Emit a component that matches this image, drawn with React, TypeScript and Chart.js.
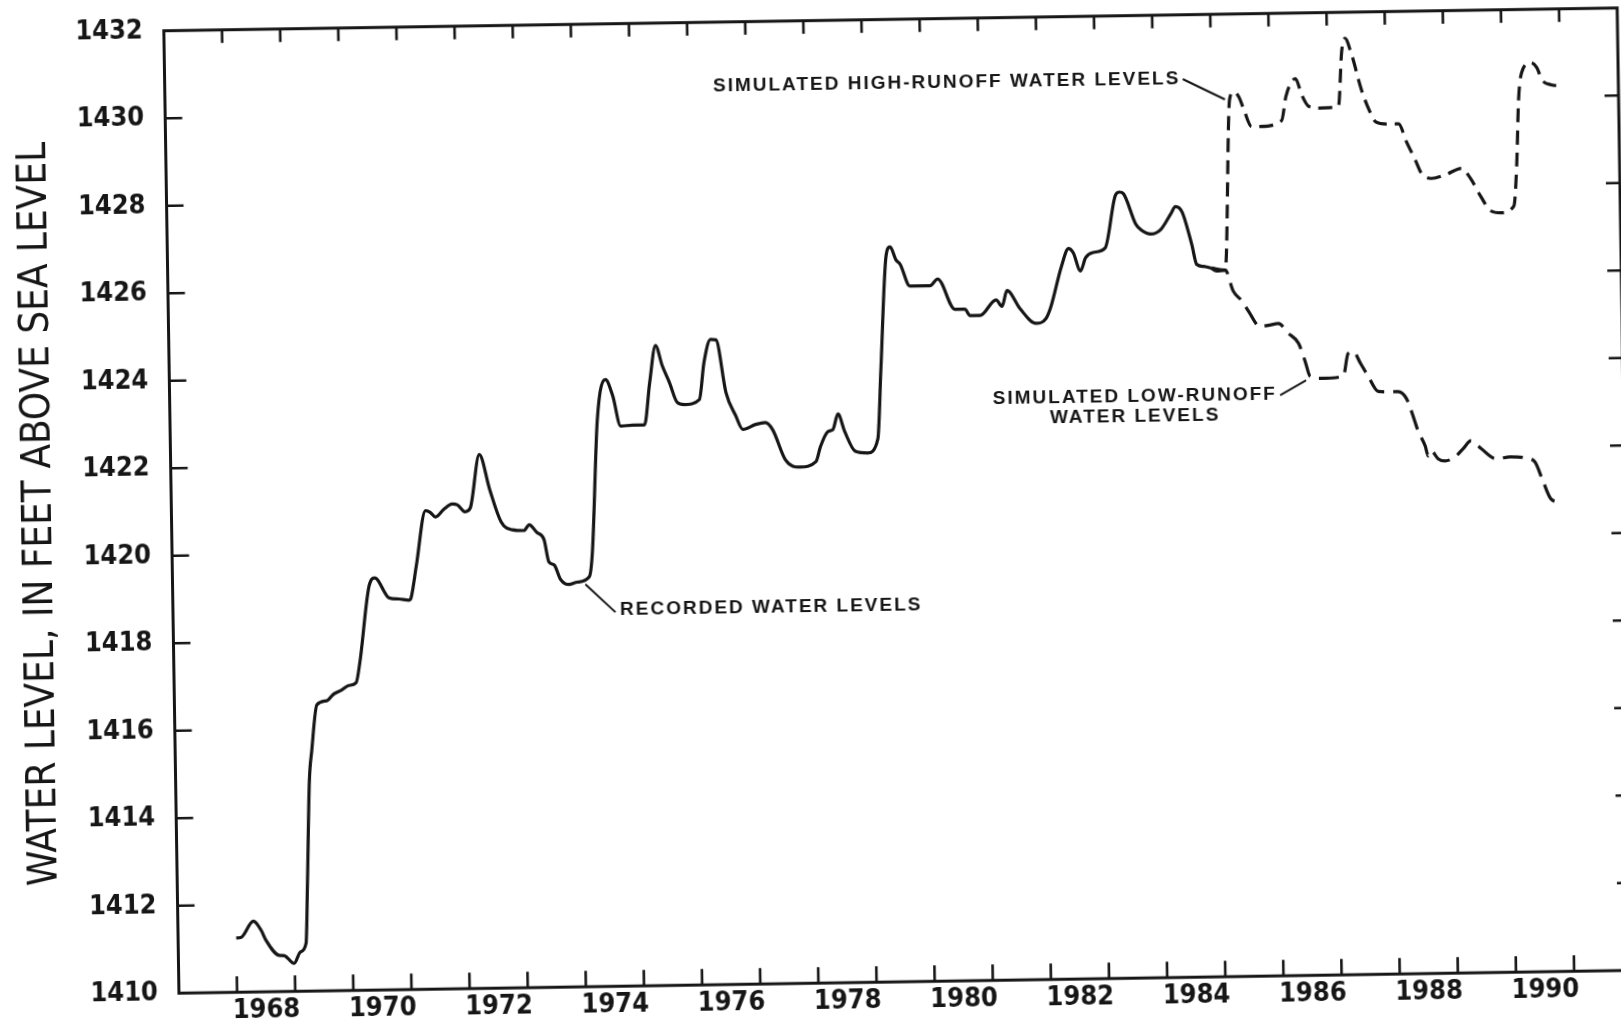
import React, { useEffect, useRef } from 'react';
import { Chart, registerables } from 'chart.js';

Chart.register(...registerables);

// ---------- data ----------
const recordedYears = [
  1968.00, 1968.08, 1968.30, 1968.43, 1968.51, 1968.73, 1968.82, 1968.99, 1969.10, 1969.20,
  1969.24, 1969.30, 1969.35, 1969.45, 1969.62, 1969.74, 1969.88, 1970.00, 1970.13, 1970.20,
  1970.38, 1970.48, 1970.72, 1970.89, 1971.06, 1971.10, 1971.20, 1971.37, 1971.45, 1971.54,
  1971.69, 1971.83, 1971.92, 1972.05, 1972.14, 1972.31, 1972.48, 1972.67, 1972.86, 1973.06,
  1973.15, 1973.28, 1973.40, 1973.48, 1973.57, 1973.67, 1973.82, 1973.96, 1974.17, 1974.23,
  1974.35, 1974.50, 1974.62, 1974.75, 1974.96, 1975.16, 1975.26, 1975.37, 1975.48, 1975.60,
  1975.73, 1975.85, 1976.11, 1976.20, 1976.32, 1976.41, 1976.57, 1976.73, 1976.85, 1977.07,
  1977.24, 1977.36, 1977.58, 1977.82, 1978.10, 1978.18, 1978.31, 1978.40, 1978.49, 1978.60,
  1978.78, 1978.99, 1979.17, 1979.24, 1979.36, 1979.43, 1979.53, 1979.60, 1979.76, 1980.11,
  1980.24, 1980.53, 1980.70, 1980.79, 1980.96, 1981.24, 1981.34, 1981.43, 1981.65, 1981.92,
  1982.09, 1982.18, 1982.37, 1982.50, 1982.58, 1982.70, 1982.79, 1982.92, 1983.13, 1983.32,
  1983.39, 1983.46, 1983.66, 1983.75, 1983.92, 1984.09, 1984.27, 1984.35, 1984.46, 1984.62,
  1984.70, 1984.82, 1984.95,
];
const recordedLevels = [
  1411.24, 1411.25, 1411.62, 1411.41, 1411.18, 1410.83, 1410.82, 1410.64, 1410.90, 1411.10,
  1412.47, 1414.80, 1415.50, 1416.54, 1416.63, 1416.78, 1416.87, 1416.97, 1417.03, 1417.49,
  1419.24, 1419.42, 1418.96, 1418.93, 1418.90, 1418.96, 1419.70, 1420.94, 1420.90, 1420.79,
  1420.97, 1421.08, 1421.06, 1420.90, 1420.98, 1422.20, 1421.40, 1420.65, 1420.47, 1420.45,
  1420.58, 1420.40, 1420.24, 1419.72, 1419.65, 1419.33, 1419.20, 1419.25, 1419.37, 1419.94,
  1422.96, 1423.87, 1423.50, 1422.80, 1422.82, 1422.82, 1423.78, 1424.63, 1424.17, 1423.78,
  1423.32, 1423.27, 1423.38, 1424.23, 1424.75, 1424.74, 1423.53, 1423.00, 1422.68, 1422.79,
  1422.83, 1422.67, 1421.96, 1421.80, 1421.92, 1422.26, 1422.60, 1422.65, 1423.00, 1422.60,
  1422.14, 1422.10, 1422.42, 1424.00, 1426.60, 1426.80, 1426.50, 1426.40, 1425.90, 1425.90,
  1426.05, 1425.35, 1425.35, 1425.20, 1425.20, 1425.55, 1425.40, 1425.76, 1425.34, 1425.00,
  1425.10, 1425.37, 1426.28, 1426.70, 1426.60, 1426.18, 1426.48, 1426.60, 1426.70, 1427.90,
  1427.97, 1427.93, 1427.24, 1427.10, 1427.00, 1427.10, 1427.46, 1427.62, 1427.50, 1426.75,
  1426.29, 1426.24, 1426.20,
];

const highYears = [
  1984.95, 1985.19, 1985.31, 1985.38, 1985.47, 1985.55, 1985.68, 1985.83, 1986.20, 1986.28,
  1986.45, 1986.55, 1986.67, 1986.87, 1987.18, 1987.25, 1987.31, 1987.42, 1987.58, 1987.70,
  1987.82, 1988.00, 1988.21, 1988.34, 1988.49, 1988.59, 1988.76, 1989.02, 1989.28, 1989.43,
  1989.60, 1989.77, 1989.94, 1990.17, 1990.23, 1990.28, 1990.34, 1990.50, 1990.60, 1990.69,
  1990.84, 1990.98,
];
const highLevels = [
  1426.20, 1426.15, 1430.05, 1430.22, 1430.10, 1429.82, 1429.42, 1429.42, 1429.55, 1430.10,
  1430.50, 1430.13, 1429.86, 1429.82, 1429.85, 1431.10, 1431.40, 1431.03, 1430.22, 1429.78,
  1429.48, 1429.43, 1429.43, 1429.02, 1428.59, 1428.29, 1428.17, 1428.26, 1428.39, 1428.16,
  1427.75, 1427.41, 1427.36, 1427.51, 1428.44, 1429.94, 1430.56, 1430.78, 1430.67, 1430.38,
  1430.27, 1430.24,
];

const lowYears = [
  1984.95, 1985.04, 1985.19, 1985.32, 1985.46, 1985.57, 1985.77, 1985.91, 1986.09, 1986.26,
  1986.43, 1986.54, 1986.62, 1986.79, 1987.19, 1987.28, 1987.37, 1987.49, 1987.62, 1987.79,
  1987.93, 1988.13, 1988.27, 1988.38, 1988.46, 1988.58, 1988.63, 1988.68, 1988.80, 1988.92,
  1989.11, 1989.23, 1989.37, 1989.54, 1989.80, 1990.04, 1990.30, 1990.46, 1990.60, 1990.73,
  1990.87,
];
const lowLevels = [
  1426.20, 1426.13, 1426.15, 1425.67, 1425.45, 1425.22, 1424.85, 1424.87, 1424.91, 1424.68,
  1424.45, 1424.03, 1423.69, 1423.64, 1423.68, 1424.20, 1424.24, 1423.97, 1423.67, 1423.32,
  1423.31, 1423.31, 1423.15, 1422.75, 1422.41, 1422.06, 1421.83, 1421.95, 1421.76, 1421.71,
  1421.82, 1421.98, 1422.16, 1421.98, 1421.74, 1421.78, 1421.75, 1421.66, 1421.20, 1420.80,
  1420.73,
];

const yearLabels = ['1968', '1970', '1972', '1974', '1976', '1978', '1980', '1982', '1984', '1986', '1988', '1990'];
const yearTickMarks = [
  1968, 1969, 1970, 1971, 1972, 1973, 1974, 1975, 1976, 1977, 1978, 1979,
  1980, 1981, 1982, 1983, 1984, 1985, 1986, 1987, 1988, 1989, 1990, 1991,
];
const levelTicks = [1410, 1412, 1414, 1416, 1418, 1420, 1422, 1424, 1426, 1428, 1430, 1432];
const levelTickMarks = [1412, 1414, 1416, 1418, 1420, 1422, 1424, 1426, 1428, 1430];
const yAxisTitle = 'WATER LEVEL, IN FEET ABOVE SEA LEVEL';

// annotation texts anchored in data coordinates
const noteTexts = [
  { lines: ['RECORDED WATER LEVELS'], year: 1974.69, level: 1418.6, align: 'left' },
  { lines: ['SIMULATED HIGH-RUNOFF WATER LEVELS'], year: 1976.43, level: 1430.53, align: 'left' },
  { lines: ['SIMULATED LOW-RUNOFF', 'WATER LEVELS'], year: 1983.6, level: 1423.3, align: 'center' },
];
const leaderFrom = [[1974.1, 1419.2], [1984.51, 1430.53], [1986.1, 1423.27]];
const leaderTo = [[1974.61, 1418.55], [1985.23, 1430.05], [1986.55, 1423.6]];

const INK = '#161616';
const TICK_FONT = '"DejaVu Sans Condensed", "DejaVu Sans", sans-serif';

const marksPlugin = {
  id: 'marksPlugin',
  afterDatasetsDraw(chart: any) {
    const { ctx, chartArea: a, scales } = chart;
    const x = scales.x;
    const y = scales.y;
    ctx.save();
    ctx.strokeStyle = INK;
    ctx.lineCap = 'butt';
    // frame
    ctx.lineWidth = 3;
    ctx.strokeRect(a.left, a.top, a.right - a.left, a.bottom - a.top);
    // inward tick marks
    ctx.lineWidth = 2.6;
    ctx.beginPath();
    for (const yr of yearTickMarks) {
      const px = x.getPixelForValue(yr);
      ctx.moveTo(px, a.bottom);
      ctx.lineTo(px, a.bottom - 16);
      ctx.moveTo(px, a.top);
      ctx.lineTo(px, a.top + 13);
    }
    for (const lv of levelTickMarks) {
      const py = y.getPixelForValue(lv);
      ctx.moveTo(a.left, py);
      ctx.lineTo(a.left + 17, py);
      ctx.moveTo(a.right, py);
      ctx.lineTo(a.right - 14, py);
    }
    ctx.stroke();
    // leader lines
    ctx.lineWidth = 2;
    ctx.beginPath();
    for (let i = 0; i < leaderFrom.length; i++) {
      ctx.moveTo(x.getPixelForValue(leaderFrom[i][0]), y.getPixelForValue(leaderFrom[i][1]));
      ctx.lineTo(x.getPixelForValue(leaderTo[i][0]), y.getPixelForValue(leaderTo[i][1]));
    }
    ctx.stroke();
    // annotation text
    ctx.fillStyle = INK;
    ctx.font = 'bold 19px "Liberation Sans", Arial, sans-serif';
    (ctx as any).letterSpacing = '2px';
    ctx.textBaseline = 'middle';
    for (const n of noteTexts) {
      ctx.textAlign = n.align as CanvasTextAlign;
      const px = x.getPixelForValue(n.year);
      const py = y.getPixelForValue(n.level);
      n.lines.forEach((line, i) => ctx.fillText(line, px, py + i * 20));
    }
    ctx.restore();
  },
};

export default function App() {
  const ref = useRef<HTMLCanvasElement | null>(null);

  useEffect(() => {
    if (!ref.current) return;
    const toPts = (xs: number[], ys: number[]) => xs.map((v, i) => ({ x: v, y: ys[i] }));
    const chart = new Chart(ref.current, {
      type: 'line',
      data: {
        datasets: [
          {
            label: 'Recorded water levels',
            data: toPts(recordedYears, recordedLevels),
            borderColor: INK,
            borderWidth: 3.2,
            pointRadius: 0,
            cubicInterpolationMode: 'monotone',
            fill: false,
          },
          {
            label: 'Simulated high-runoff water levels',
            data: toPts(highYears, highLevels),
            borderColor: INK,
            borderWidth: 3.2,
            borderDash: [14, 8],
            pointRadius: 0,
            cubicInterpolationMode: 'monotone',
            fill: false,
          },
          {
            label: 'Simulated low-runoff water levels',
            data: toPts(lowYears, lowLevels),
            borderColor: INK,
            borderWidth: 3.2,
            borderDash: [20, 9],
            pointRadius: 0,
            cubicInterpolationMode: 'monotone',
            fill: false,
          },
        ],
      },
      options: {
        animation: false,
        responsive: false,
        devicePixelRatio: 1,
        layout: { padding: { top: 20.7, right: 35, left: 0, bottom: 0 } },
        plugins: { legend: { display: false }, tooltip: { enabled: false } },
        scales: {
          x: {
            type: 'linear',
            min: 1967.0,
            max: 1992.0,
            grid: { display: false, drawTicks: false },
            border: { display: false },
            afterBuildTicks: (ax: any) => {
              ax.ticks = yearLabels.map((l) => ({ value: Number(l) + 0.5 }));
            },
            afterFit: (ax: any) => {
              ax.height = 43.8;
              ax.paddingLeft = 0;
              ax.paddingRight = 0;
            },
            ticks: {
              autoSkip: false,
              maxRotation: 0,
              padding: 3,
              color: INK,
              font: { family: TICK_FONT, size: 27, weight: 'bold' },
              callback: (v: any) => {
                const lab = yearLabels.find((l) => Number(l) + 0.5 === Number(v));
                return lab ?? '';
              },
            },
          },
          y: {
            type: 'linear',
            min: 1410,
            max: 1432,
            grid: { display: false, drawTicks: false },
            border: { display: false },
            afterBuildTicks: (ax: any) => {
              ax.ticks = levelTicks.map((v) => ({ value: v }));
            },
            afterFit: (ax: any) => {
              ax.width = 171.5;
              ax.paddingTop = 0;
              ax.paddingBottom = 0;
            },
            ticks: {
              padding: 21,
              color: INK,
              font: { family: TICK_FONT, size: 27, weight: 'bold' },
              callback: (v: any) => String(v),
            },
            title: {
              display: true,
              text: yAxisTitle,
              color: INK,
              font: { family: TICK_FONT, size: 40 },
              padding: { top: 17, bottom: 0 },
            },
          },
        },
      },
      plugins: [marksPlugin],
    } as any);
    return () => chart.destroy();
  }, []);

  return (
    <div
      style={{
        position: 'fixed',
        left: 0,
        top: 0,
        width: 1621,
        height: 1027,
        overflow: 'hidden',
        background: '#fff',
      }}
    >
      <div
        style={{
          position: 'absolute',
          left: 0,
          top: 0,
          width: 1660,
          height: 1027,
          transform: 'rotate(-0.9deg)',
          transformOrigin: '810.5px 513.5px',
        }}
      >
        <canvas ref={ref} width={1660} height={1027} style={{ display: 'block' }} />
      </div>
    </div>
  );
}
